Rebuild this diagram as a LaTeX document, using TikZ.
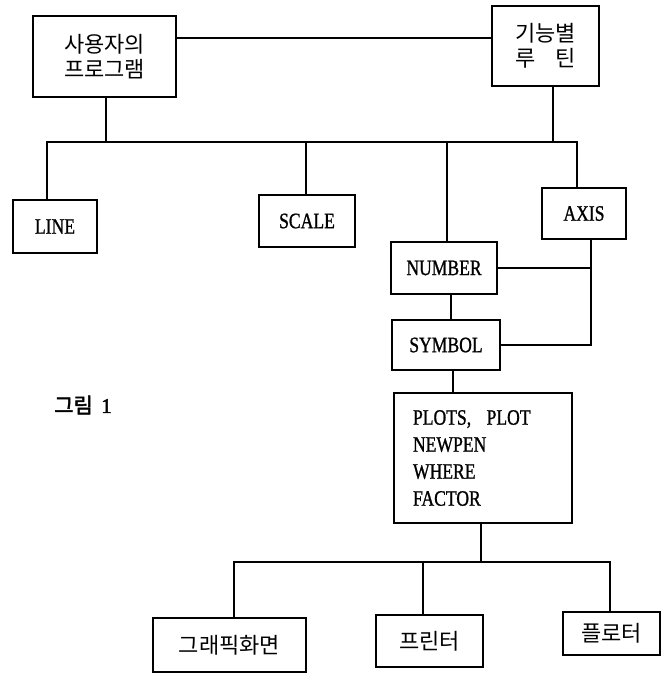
\documentclass[tikz,border=0pt]{standalone}
\usepackage{fontspec}
\setmainfont{Liberation Serif}
\newfontfamily\lat[FakeStretch=0.8,FakeBold=1]{Liberation Serif}
\newfontfamily\latb[FakeBold=2]{Liberation Serif}
\newfontfamily\kr{Noto Sans CJK KR}
\newfontfamily\krb[FakeBold=2.5]{Noto Sans CJK KR}
\begin{document}
\begin{tikzpicture}[x=1pt,y=-1pt,
  every path/.style={line width=1.2pt},
  box/.style={draw,line width=1.2pt,rectangle,inner sep=0pt,anchor=center},
  krtext/.style={font=\kr\fontsize{22}{25}\selectfont,align=center},
  lattext/.style={font=\lat\fontsize{22}{27}\selectfont,align=center}]
\useasboundingbox (0,0) rectangle (665,673);
% boxes
\node[box,krtext,minimum width=143pt,minimum height=81pt] (A) at (104.5,56.5) {사용자의\\프로그램};
\node[box,krtext,minimum width=107pt,minimum height=80pt] (B) at (545.5,46) {기능별\\루\hspace{0.9em}틴};
\node[box,lattext,minimum width=84pt,minimum height=53pt] (LINE) at (55,226.5) {LINE};
\node[box,lattext,minimum width=96pt,minimum height=52pt] (SCALE) at (307,221) {SCALE};
\node[box,lattext,minimum width=84pt,minimum height=51pt] (AXIS) at (584,213.5) {AXIS};
\node[box,lattext,minimum width=106pt,minimum height=52pt] (NUMBER) at (444,268) {NUMBER};
\node[box,lattext,minimum width=108pt,minimum height=50pt] (SYMBOL) at (446,345) {SYMBOL};
\node[box,font=\lat\fontsize{22}{27}\selectfont,align=left,text width=140pt,inner xsep=19pt,minimum width=178pt,minimum height=130pt] (PLOTS) at (483,458) {PLOTS,\hspace{0.7em}PLOT\\NEWPEN\\WHERE\\FACTOR};
\node[box,krtext,minimum width=153pt,minimum height=54pt] (GRAPH) at (229.5,645) {그래픽화면};
\node[box,krtext,minimum width=107pt,minimum height=52pt] (PRINTER) at (429.5,641) {프린터};
\node[box,krtext,minimum width=97pt,minimum height=43pt] (PLOTTER) at (611.5,633.5) {플로터};
\node[font=\krb\fontsize{21}{25}\selectfont] (CAP) at (83,405) {그림\hspace{0.4em}{\latb 1}};
% junction coordinates
\coordinate (hA) at (0,38);
\coordinate (tA) at (106,142);
\coordinate (tB) at (553,142);
\coordinate (bL) at (47,142);
\coordinate (bR) at (577,142);
\coordinate (dS) at (306,142);
\coordinate (dN) at (447,142);
\coordinate (ax) at (591,0);
\coordinate (v1) at (451,0);
\coordinate (v2) at (453,0);
\coordinate (pB) at (481,562);
\coordinate (bL2) at (234,562);
\coordinate (bR2) at (610,562);
\coordinate (dP) at (423,562);
% connectors
\draw (A.east |- hA) -- (B.west |- hA);
\draw (A.south -| tA) -- (tA);
\draw (B.south -| tB) -- (tB);
\draw (LINE.north -| bL) -- (bL) -- (bR) -- (AXIS.north -| bR);
\draw (dS) -- (SCALE.north -| dS);
\draw (dN) -- (NUMBER.north -| dN);
\draw (AXIS.south -| ax) -- (ax |- SYMBOL.east) -- (SYMBOL.east);
\draw (NUMBER.east) -- (NUMBER.east -| ax);
\draw (NUMBER.south -| v1) -- (SYMBOL.north -| v1);
\draw (SYMBOL.south -| v2) -- (PLOTS.north -| v2);
\draw (PLOTS.south -| pB) -- (pB);
\draw (GRAPH.north -| bL2) -- (bL2) -- (bR2) -- (PLOTTER.north -| bR2);
\draw (dP) -- (PRINTER.north -| dP);
\end{tikzpicture}
\end{document}
